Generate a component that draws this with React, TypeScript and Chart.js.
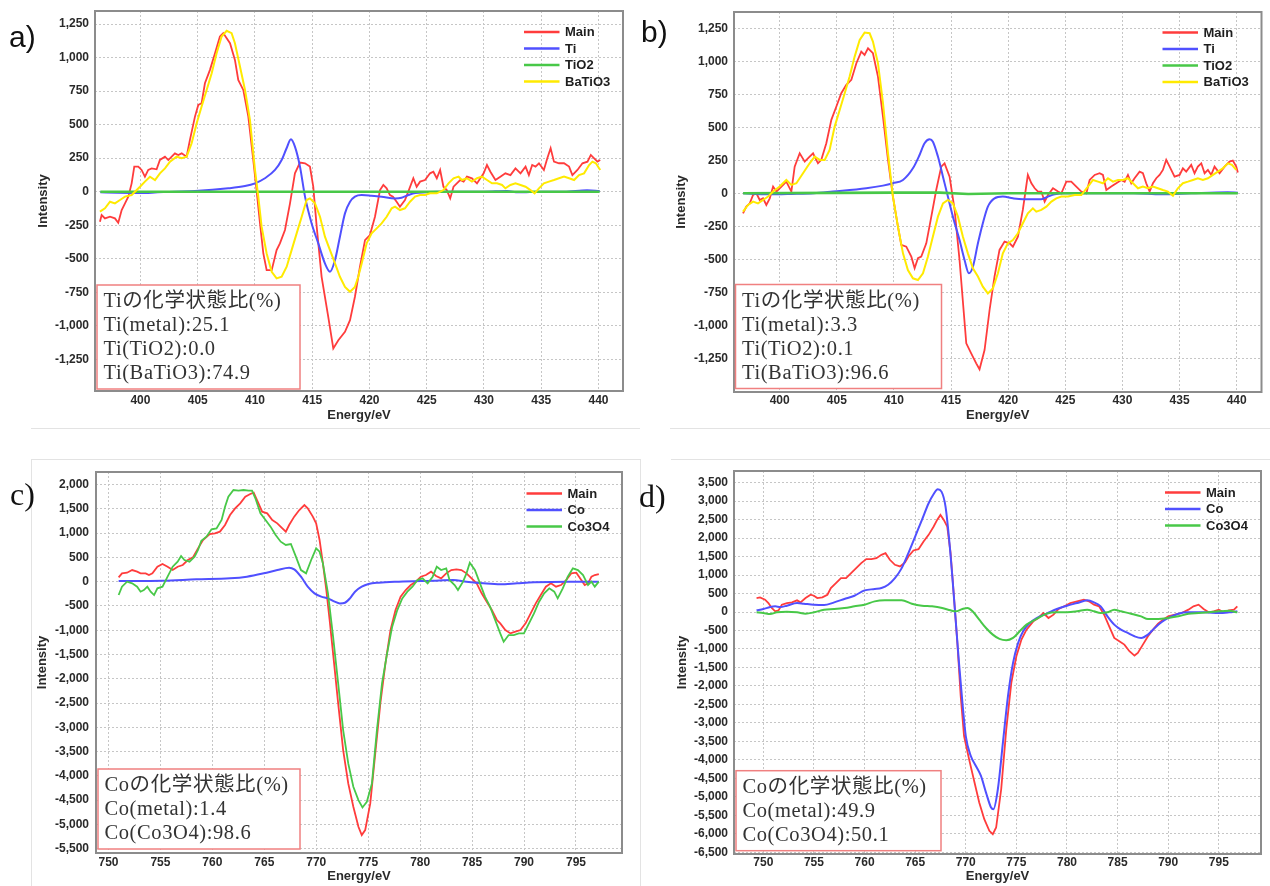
import React, { useEffect, useRef } from "react";
import { Chart, registerables } from "chart.js";

Chart.register(...registerables);

type Pt = [number, number];

const RED = "#ff3c3c";
const BLUE = "#5050ff";
const GREEN = "#48c848";
const YELLOW = "#ffea00";
const GRID = "#c6c6c6";
const FRAME = "#8c8c8c";
const BOXRED = "#f08080";
const SANS = '"Liberation Sans", Arial, Helvetica, sans-serif';
const SERIF = '"Liberation Serif", "Noto Sans CJK JP", serif';

// ---------- tick values ----------
const tiEnergyTicks = [400, 405, 410, 415, 420, 425, 430, 435, 440];
const tiIntensityTicks = [-1250, -1000, -750, -500, -250, 0, 250, 500, 750, 1000, 1250];
const coEnergyTicks = [750, 755, 760, 765, 770, 775, 780, 785, 790, 795];
const coIntensityTicksC = [-5500, -5000, -4500, -4000, -3500, -3000, -2500, -2000, -1500, -1000, -500, 0, 500, 1000, 1500, 2000];
const coIntensityTicksD = [-6500, -6000, -5500, -5000, -4500, -4000, -3500, -3000, -2500, -2000, -1500, -1000, -500, 0, 500, 1000, 1500, 2000, 2500, 3000, 3500];

// ---------- panel a (Ti, sample 1) : [energy eV, intensity] ----------
const aMain: Pt[] = [
  [396.46,-224],[396.61,-174],[396.9,-199],[397.34,-187],[397.77,-199],[398.06,-232],[398.36,-137],[398.65,-87],[398.94,-37],[399.23,62],[399.46,187],[399.81,187],[400.1,162],[400.39,112],[400.68,162],[400.98,174],[401.41,167],[401.7,237],[402.14,261],[402.43,236],[403.01,286],[403.3,274],[403.6,286],[404.03,261],[404.32,386],[404.76,560],[405.05,647],[405.34,660],[405.63,809],[406.07,909],[406.51,1033],[406.94,1158],[407.23,1183],[407.53,1145],[407.82,1108],[408.25,983],[408.54,834],[408.98,759],[409.42,560],[409.85,237],[410.14,12],[410.44,-237],[410.73,-461],[411.02,-585],[411.46,-585],[411.89,-436],[412.18,-386],[412.62,-286],[413.06,-87],[413.49,137],[413.93,217],[414.37,212],[414.8,187],[415.09,37],[415.39,-261],[415.82,-635],[416.4,-934],[416.84,-1170],[417.28,-1108],[417.86,-1046],[418.3,-959],[418.73,-784],[419.17,-560],[419.61,-361],[420.04,-324],[420.48,-187],[420.92,12],[421.21,50],[421.5,25],[421.79,-25],[422.05,-37],[422.37,-75],[422.66,-112],[423.1,-62],[423.39,0],[423.83,100],[424.12,37],[424.42,75],[424.85,87],[425.29,137],[425.58,149],[425.88,100],[426.17,162],[426.46,37],[426.75,12],[427.05,-50],[427.34,37],[427.63,62],[427.92,87],[428.22,75],[428.51,112],[428.95,100],[429.39,62],[429.68,100],[429.97,137],[430.26,199],[430.56,149],[431.0,87],[431.43,112],[431.87,137],[432.31,124],[432.75,174],[433.19,137],[433.63,187],[433.92,124],[434.21,199],[434.5,187],[434.8,212],[435.23,162],[435.53,249],[435.82,324],[436.11,224],[436.55,212],[436.99,212],[437.43,187],[437.72,124],[438.16,162],[438.6,212],[439.04,224],[439.33,274],[439.62,249],[439.91,224],[440.15,236]
];
const aTi: Pt[] = [
  [396.5,-5],[398,-8],[400,-10],[401.5,-5],[403,0],[404.76,5],[407.67,25],[409.13,42],[410.0,62],[410.87,100],[411.75,162],[412.33,236],[412.76,324],[413.14,391],[413.49,336],[413.93,187],[414.37,-37],[414.95,-237],[415.53,-386],[416.11,-535],[416.55,-597],[416.99,-510],[417.42,-336],[417.86,-162],[418.3,-75],[418.73,-37],[419.32,-25],[420.19,-30],[421.06,-37],[422.23,-50],[422.8,-45],[423.4,-25],[424,-10],[425,-5],[426,0],[428,0],[430,0],[432,5],[433,-5],[435,0],[437,0],[439,10],[440.1,5]
];
const aTiO2: Pt[] = [
  [396.5,0],[405,0],[415,0],[425,0],[440.1,0]
];
const aBaTiO3: Pt[] = [
  [396.46,-149],[396.9,-124],[397.34,-75],[397.77,-87],[398.21,-62],[398.65,-37],[399.23,-25],[399.52,0],[399.96,37],[400.39,75],[400.83,112],[401.27,87],[401.7,137],[402.14,174],[402.58,224],[403.16,261],[403.6,249],[404.03,261],[404.47,361],[404.91,510],[405.34,635],[405.78,759],[406.22,884],[406.65,1033],[407.09,1158],[407.53,1200],[407.96,1183],[408.25,1108],[408.69,934],[409.13,759],[409.56,535],[410.0,162],[410.29,-37],[410.58,-261],[411.02,-461],[411.46,-598],[411.89,-647],[412.33,-635],[412.77,-560],[413.2,-436],[413.64,-311],[414.08,-187],[414.51,-62],[414.8,-50],[415.24,-87],[415.68,-187],[416.11,-336],[416.55,-436],[416.99,-535],[417.42,-635],[417.86,-710],[418.3,-747],[418.73,-710],[419.02,-635],[419.32,-535],[419.75,-386],[420.19,-311],[420.63,-274],[421.06,-237],[421.5,-187],[421.94,-124],[422.23,-112],[422.66,-137],[423.1,-124],[423.54,-75],[423.98,-37],[424.42,-25],[424.85,-25],[425.29,-12],[425.88,-12],[426.46,12],[426.9,62],[427.34,100],[427.78,112],[428.07,87],[428.51,100],[428.95,75],[429.39,100],[429.82,112],[430.26,87],[430.7,62],[431.14,62],[431.58,50],[431.87,25],[432.31,50],[432.75,62],[433.19,50],[433.63,37],[434.06,12],[434.42,-12],[434.8,25],[435.23,62],[435.67,75],[436.11,87],[436.55,100],[436.99,112],[437.43,100],[437.87,87],[438.3,124],[438.74,137],[439.18,199],[439.47,224],[439.77,212],[440.15,162]
];

// ---------- panel b (Ti, sample 2) ----------
const bMain: Pt[] = [
  [396.79,-152],[397.08,-101],[397.38,-76],[397.67,-13],[397.96,0],[398.25,-51],[398.54,-38],[398.83,-88],[399.13,-38],[399.42,51],[399.71,13],[400.15,51],[400.58,88],[401.02,13],[401.31,202],[401.75,303],[402.19,240],[402.62,278],[402.92,303],[403.35,227],[403.64,253],[404.08,379],[404.52,556],[404.96,657],[405.39,758],[405.83,821],[406.27,859],[406.71,985],[407.14,1073],[407.43,1048],[407.73,1098],[408.16,1061],[408.6,884],[409.04,581],[409.48,253],[409.91,-25],[410.35,-253],[410.64,-391],[411.08,-404],[411.52,-480],[411.81,-568],[412.1,-492],[412.39,-480],[412.83,-379],[413.27,-177],[413.7,25],[414.14,202],[414.43,227],[414.87,126],[415.31,-126],[415.74,-505],[416.33,-1136],[416.76,-1212],[417.2,-1288],[417.49,-1333],[417.93,-1187],[418.37,-884],[418.8,-631],[419.24,-429],[419.68,-366],[420.12,-379],[420.41,-404],[420.85,-328],[421.28,-126],[421.72,139],[422.03,76],[422.32,38],[422.61,13],[422.9,13],[423.19,-63],[423.48,-13],[423.92,38],[424.36,13],[424.65,0],[425.09,88],[425.52,88],[425.96,51],[426.4,13],[426.84,0],[427.13,101],[427.57,139],[428.0,152],[428.29,139],[428.59,25],[429.02,51],[429.46,76],[429.9,101],[430.19,88],[430.48,139],[430.77,76],[431.06,114],[431.5,164],[431.79,152],[432.08,76],[432.38,13],[432.67,76],[432.96,114],[433.25,139],[433.54,177],[433.83,253],[434.13,202],[434.56,126],[435.0,139],[435.29,189],[435.58,164],[436.02,215],[436.31,152],[436.6,202],[436.9,227],[437.19,152],[437.48,177],[437.77,139],[438.06,202],[438.5,152],[438.94,202],[439.37,240],[439.66,247],[439.96,202],[440.1,157]
];
const bTi: Pt[] = [
  [396.8,0],[399,-8],[401,-5],[403,0],[404.66,13],[407.58,38],[409.04,58],[409.91,76],[410.79,101],[411.66,189],[412.24,290],[412.68,379],[413.12,409],[413.41,391],[413.85,278],[414.29,126],[414.72,-25],[415.16,-177],[415.74,-354],[416.18,-505],[416.56,-606],[416.91,-556],[417.35,-379],[417.78,-227],[418.22,-101],[418.8,-38],[419.53,-25],[420.41,-38],[421.28,-45],[422.16,-45],[422.9,-45],[423.48,-25],[424.07,-8],[424.94,0],[428,0],[431,0],[433.4,-8],[436,0],[439.2,8],[440.1,5]
];
const bTiO2: Pt[] = [
  [396.8,0],[405,3],[410,5],[414,5],[416.5,-5],[420,0],[430,0],[440.1,0]
];
const bBaTiO3: Pt[] = [
  [396.79,-139],[397.23,-88],[397.67,-63],[398.1,-76],[398.54,-51],[398.98,-25],[399.42,13],[400.0,51],[400.58,101],[401.02,63],[401.46,76],[402.04,152],[402.62,227],[403.06,278],[403.5,253],[403.94,253],[404.37,328],[404.81,505],[405.25,631],[405.69,758],[406.12,884],[406.56,1035],[407.0,1162],[407.43,1217],[407.87,1212],[408.16,1149],[408.6,985],[409.04,682],[409.48,303],[409.91,-25],[410.35,-253],[410.79,-455],[411.22,-581],[411.66,-644],[412.1,-657],[412.54,-606],[412.97,-480],[413.41,-328],[413.85,-177],[414.29,-76],[414.72,-51],[415.16,-76],[415.6,-177],[416.03,-328],[416.47,-455],[416.91,-568],[417.35,-631],[417.78,-707],[418.22,-758],[418.66,-720],[419.1,-606],[419.53,-455],[419.97,-379],[420.41,-354],[420.85,-303],[421.28,-227],[421.72,-152],[422.16,-114],[422.46,-139],[422.9,-126],[423.34,-101],[423.78,-63],[424.21,-38],[424.65,-25],[425.23,-25],[425.82,-13],[426.4,-13],[426.98,51],[427.42,101],[427.86,88],[428.29,76],[428.73,114],[429.17,88],[429.61,101],[430.04,101],[430.48,114],[430.92,76],[431.36,38],[431.79,51],[432.23,38],[432.67,51],[433.1,38],[433.54,25],[433.98,13],[434.42,-18],[434.85,38],[435.29,76],[435.73,88],[436.17,101],[436.6,114],[437.04,101],[437.48,114],[437.92,139],[438.35,164],[438.79,189],[439.23,227],[439.58,215],[439.96,177]
];

// ---------- panel c (Co, sample 1) ----------
const cMain: Pt[] = [
  [750.98,89],[751.3,172],[751.79,185],[752.28,240],[752.76,206],[753.09,172],[753.58,172],[753.9,137],[754.23,172],[754.71,309],[755.2,364],[755.69,309],[756.18,240],[756.66,309],[757.15,344],[757.64,447],[758.13,502],[758.62,687],[759.1,859],[759.75,982],[760.24,996],[760.73,1031],[761.22,1168],[761.7,1374],[762.19,1511],[762.68,1614],[763.17,1752],[763.65,1807],[763.98,1834],[764.3,1683],[764.79,1443],[765.28,1408],[765.77,1271],[766.25,1202],[766.74,1099],[767.07,1031],[767.39,1168],[767.88,1340],[768.37,1477],[768.86,1580],[769.18,1511],[769.67,1340],[769.99,1202],[770.32,859],[770.64,378],[770.97,-172],[771.29,-790],[771.62,-1477],[772.11,-2508],[772.59,-3469],[773.08,-4156],[773.57,-4637],[774.06,-5049],[774.38,-5221],[774.71,-5118],[775.2,-4568],[775.68,-3538],[776.17,-2508],[776.66,-1683],[777.15,-996],[777.63,-584],[778.12,-309],[778.61,-172],[779.1,-69],[779.58,0],[780.07,103],[780.56,137],[781.05,206],[781.53,117],[782.02,69],[782.51,172],[783.0,240],[783.49,254],[783.97,240],[784.46,172],[784.95,69],[785.44,-34],[785.92,-240],[786.41,-412],[786.9,-584],[787.39,-790],[787.71,-859],[788.2,-996],[788.69,-1065],[789.17,-1031],[789.66,-996],[790.15,-859],[790.64,-653],[791.13,-447],[791.61,-275],[792.1,-103],[792.59,-34],[793.08,-103],[793.56,-69],[794.05,34],[794.54,172],[795.03,185],[795.51,34],[795.84,-69],[796.16,-34],[796.49,103],[796.81,137],[797.2,158]
];
const cCo: Pt[] = [
  [750.98,14],[755.2,21],[758.45,48],[761.7,69],[763.33,103],[764.95,172],[766.25,240],[767.39,289],[767.88,254],[768.53,103],[769.18,-103],[769.83,-240],[770.48,-309],[771.13,-344],[771.78,-412],[772.27,-447],[772.76,-433],[773.24,-344],[773.73,-206],[774.38,-103],[775.03,-48],[776.01,-21],[777.96,0],[781.21,21],[783.16,34],[784.46,0],[786.09,-34],[787.71,-55],[789.34,-34],[790.96,-14],[794.21,0],[797.2,0]
];
const cCo3O4: Pt[] = [
  [750.98,-275],[751.3,-103],[751.79,0],[752.28,-34],[752.76,-103],[753.09,-206],[753.41,-172],[753.74,-103],[754.06,-206],[754.39,-275],[754.71,-137],[755.2,-103],[755.69,103],[756.18,309],[756.66,412],[756.99,529],[757.31,447],[757.8,412],[758.29,515],[758.62,653],[758.94,845],[759.43,927],[759.92,1079],[760.4,1099],[760.89,1271],[761.22,1546],[761.54,1752],[762.03,1889],[762.52,1876],[763.0,1889],[763.49,1876],[763.82,1876],[764.14,1718],[764.63,1408],[765.12,1271],[765.6,1134],[766.09,962],[766.58,824],[767.07,756],[767.56,776],[768.04,515],[768.53,240],[769.02,172],[769.51,447],[769.99,687],[770.32,618],[770.64,378],[771.13,-240],[771.62,-1134],[772.11,-2095],[772.59,-3057],[773.08,-3744],[773.57,-4225],[774.06,-4500],[774.45,-4651],[774.87,-4534],[775.36,-4156],[775.84,-3057],[776.33,-2095],[776.82,-1477],[777.31,-927],[777.8,-584],[778.28,-344],[778.77,-206],[779.26,-103],[779.75,34],[780.23,69],[780.72,-34],[781.21,103],[781.6,309],[782.02,240],[782.51,275],[782.83,34],[783.32,-69],[783.64,-172],[784.13,0],[784.46,172],[784.78,392],[785.27,240],[785.76,-34],[786.24,-309],[786.73,-515],[787.22,-790],[787.71,-1065],[788.04,-1237],[788.52,-1099],[789.01,-1099],[789.5,-1065],[789.99,-1065],[790.48,-859],[790.96,-653],[791.45,-412],[791.94,-240],[792.43,-137],[792.91,-206],[793.24,-344],[793.73,-137],[794.21,103],[794.7,275],[795.19,240],[795.68,137],[796.16,-69],[796.49,0],[796.81,-103],[797.2,0]
];

// ---------- panel d (Co, sample 2) ----------
const dMain: Pt[] = [
  [749.33,378],[749.67,396],[750.17,333],[750.5,243],[750.83,108],[751.17,18],[751.5,45],[751.83,198],[752.33,243],[752.83,261],[753.33,315],[753.67,261],[754.17,378],[754.67,468],[755.0,441],[755.33,378],[755.83,396],[756.33,468],[756.67,648],[757.17,783],[757.67,918],[758.17,918],[758.67,1053],[759.17,1188],[759.67,1323],[760.17,1431],[760.67,1431],[761.17,1458],[761.67,1548],[762.07,1593],[762.5,1413],[763.0,1278],[763.5,1233],[764.0,1341],[764.33,1503],[764.83,1665],[765.33,1701],[765.83,1908],[766.33,2088],[766.83,2313],[767.17,2493],[767.5,2628],[767.83,2493],[768.17,2313],[768.5,1593],[768.83,423],[769.17,-837],[769.5,-2277],[769.83,-3357],[770.33,-3987],[770.83,-4572],[771.33,-5157],[771.83,-5607],[772.33,-5922],[772.67,-6012],[773.0,-5832],[773.5,-4797],[774.0,-3177],[774.5,-1917],[775.0,-1197],[775.5,-747],[776.0,-477],[776.67,-252],[777.17,-162],[777.67,-27],[778.17,-162],[778.67,-72],[779.17,81],[779.83,171],[780.33,243],[781.0,288],[781.67,333],[782.17,288],[782.67,198],[783.17,153],[783.67,-72],[784.17,-387],[784.67,-702],[785.17,-792],[785.67,-882],[786.17,-1062],[786.67,-1179],[787.0,-1107],[787.5,-882],[788.0,-657],[788.5,-477],[789.0,-315],[789.5,-207],[790.0,-117],[790.67,-72],[791.33,-27],[792.0,63],[792.5,153],[793.0,198],[793.5,81],[794.0,-9],[794.5,18],[795.0,63],[795.5,-9],[796.0,45],[796.5,63],[796.83,153]
];
const dCo: Pt[] = [
  [749.33,45],[750.0,81],[750.67,135],[751.17,153],[751.67,135],[752.33,171],[753.33,243],[754.0,225],[755.0,198],[756.0,189],[757.0,261],[758.0,351],[759.0,441],[760.0,585],[761.0,621],[761.67,648],[762.33,738],[763.0,918],[763.67,1188],[764.33,1593],[765.0,2043],[765.67,2493],[766.33,2943],[766.83,3195],[767.23,3321],[767.6,3258],[768.0,2853],[768.33,2043],[768.67,963],[769.0,-207],[769.33,-1377],[769.67,-2457],[770.0,-3357],[770.5,-3897],[771.0,-4167],[771.5,-4437],[772.0,-4887],[772.5,-5292],[772.73,-5337],[773.17,-4797],[773.67,-3537],[774.17,-2277],[774.67,-1377],[775.17,-837],[775.67,-522],[776.33,-297],[777.0,-162],[778.0,-45],[779.0,81],[780.0,171],[781.0,243],[782.0,315],[782.67,261],[783.33,153],[784.0,-117],[784.67,-342],[785.33,-477],[786.0,-567],[786.67,-657],[787.33,-702],[788.0,-612],[788.67,-432],[789.33,-279],[790.0,-162],[791.0,-45],[792.0,-9],[793.67,-9],[795.0,-27],[796.0,-9],[796.83,18]
];
const dCo3O4: Pt[] = [
  [749.33,-9],[750.0,-27],[750.67,-54],[751.33,-9],[752.33,9],[753.33,-9],[754.17,-45],[755.0,-9],[756.0,63],[757.0,81],[758.0,108],[759.0,153],[760.0,198],[761.0,288],[762.0,315],[763.0,315],[763.67,315],[764.67,225],[765.67,171],[766.67,153],[767.67,108],[768.5,45],[769.0,18],[769.67,81],[770.17,108],[770.67,18],[771.33,-207],[772.0,-432],[772.67,-612],[773.33,-729],[774.0,-765],[774.67,-702],[775.33,-522],[776.0,-342],[777.0,-189],[778.0,-45],[779.0,-9],[780.0,-9],[781.0,18],[782.0,63],[782.67,18],[783.33,-27],[784.0,-9],[784.67,63],[785.33,18],[786.33,-45],[787.33,-117],[788.0,-189],[789.0,-189],[790.0,-162],[791.0,-117],[792.0,-45],[793.0,-27],[794.0,-9],[795.0,18],[796.0,36],[796.83,-9]
];

// ---------- annotation texts ----------
const aNote = ["Tiの化学状態比(%)", "Ti(metal):25.1", "Ti(TiO2):0.0", "Ti(BaTiO3):74.9"];
const bNote = ["Tiの化学状態比(%)", "Ti(metal):3.3", "Ti(TiO2):0.1", "Ti(BaTiO3):96.6"];
const cNote = ["Coの化学状態比(%)", "Co(metal):1.4", "Co(Co3O4):98.6"];
const dNote = ["Coの化学状態比(%)", "Co(metal):49.9", "Co(Co3O4):50.1"];

type Series = { label: string; color: string; width: number; pts: Pt[]; smooth?: boolean };

type PanelCfg = {
  key: string;
  left: number; top: number; w: number; h: number;
  yW: number; padTop: number; padRight: number; xH: number;
  xMin: number; xMax: number; yMin: number; yMax: number;
  xTicks: number[]; yTicks: number[];
  series: Series[];
  yTitlePad: number; xTitlePad: number; xTickPad: number; yTickPad: number;
  legendRight: number; legendTop: number;
  note: string[]; boxW: number; boxDx: number; boxDy: number;
};

const panels: PanelCfg[] = [
  {
    key: "a", left: 0, top: 0, w: 632, h: 430,
    yW: 95, padTop: 11, padRight: 9, xH: 39,
    xMin: 396.03, xMax: 442.14, yMin: -1487, yMax: 1348,
    xTicks: tiEnergyTicks, yTicks: tiIntensityTicks,
    series: [
      { label: "Main", color: RED, width: 1.8, pts: aMain },
      { label: "Ti", color: BLUE, width: 2, pts: aTi, smooth: true },
      { label: "TiO2", color: GREEN, width: 2.6, pts: aTiO2 },
      { label: "BaTiO3", color: YELLOW, width: 2, pts: aBaTiO3 },
    ],
    yTitlePad: 36, xTitlePad: 7, xTickPad: 2, yTickPad: 6,
    legendRight: 99, legendTop: 21,
    note: aNote, boxW: 203, boxDx: 2, boxDy: 2,
  },
  {
    key: "b", left: 635, top: 0, w: 635, h: 430,
    yW: 99, padTop: 12, padRight: 8.5, xH: 38,
    xMin: 396.0, xMax: 442.17, yMin: -1505, yMax: 1373,
    xTicks: tiEnergyTicks, yTicks: tiIntensityTicks,
    series: [
      { label: "Main", color: RED, width: 1.8, pts: bMain },
      { label: "Ti", color: BLUE, width: 2, pts: bTi, smooth: true },
      { label: "TiO2", color: GREEN, width: 2.6, pts: bTiO2 },
      { label: "BaTiO3", color: YELLOW, width: 2, pts: bBaTiO3 },
    ],
    yTitlePad: 39, xTitlePad: 7, xTickPad: 1, yTickPad: 6,
    legendRight: 99, legendTop: 20.5,
    note: bNote, boxW: 206, boxDx: 1.5, boxDy: 3.5,
  },
  {
    key: "c", left: 0, top: 455, w: 632, h: 431,
    yW: 96, padTop: 17, padRight: 10, xH: 33,
    xMin: 748.8, xMax: 799.43, yMin: -5590, yMax: 2260,
    xTicks: coEnergyTicks, yTicks: coIntensityTicksC,
    series: [
      { label: "Main", color: RED, width: 1.8, pts: cMain },
      { label: "Co", color: BLUE, width: 2, pts: cCo, smooth: true },
      { label: "Co3O4", color: GREEN, width: 1.8, pts: cCo3O4 },
    ],
    yTitlePad: 35, xTitlePad: 1.5, xTickPad: 2, yTickPad: 7,
    legendRight: 95.5, legendTop: 21.5,
    note: cNote, boxW: 202, boxDx: 2, boxDy: 4,
  },
  {
    key: "d", left: 635, top: 455, w: 635, h: 431,
    yW: 99, padTop: 16, padRight: 9, xH: 32,
    xMin: 747.1, xMax: 799.17, yMin: -6549, yMax: 3816,
    xTicks: coEnergyTicks, yTicks: coIntensityTicksD,
    series: [
      { label: "Main", color: RED, width: 1.8, pts: dMain },
      { label: "Co", color: BLUE, width: 2, pts: dCo, smooth: true },
      { label: "Co3O4", color: GREEN, width: 2, pts: dCo3O4, smooth: true },
    ],
    yTitlePad: 40, xTitlePad: 1.5, xTickPad: 1, yTickPad: 6,
    legendRight: 96, legendTop: 21.5,
    note: dNote, boxW: 205, boxDx: 2, boxDy: 3.3,
  },
];

const fmt = (v: number) => Number(v).toLocaleString("en-US");

function buildConfig(cfg: PanelCfg): any {
  const n = cfg.series.length;
  const deco = {
    id: "deco_" + cfg.key,
    afterDraw(chart: any) {
      const { ctx, chartArea: a } = chart;
      ctx.save();
      // frame
      ctx.strokeStyle = FRAME;
      ctx.lineWidth = 2;
      ctx.strokeRect(a.left, a.top, a.right - a.left, a.bottom - a.top);
      // legend
      ctx.font = `bold 13px ${SANS}`;
      ctx.textBaseline = "middle";
      ctx.textAlign = "left";
      cfg.series.forEach((s, i) => {
        const y = a.top + cfg.legendTop + i * 16.5;
        const x0 = a.right - cfg.legendRight;
        ctx.strokeStyle = s.color;
        ctx.lineWidth = 2.5;
        ctx.beginPath();
        ctx.moveTo(x0, y);
        ctx.lineTo(x0 + 35.5, y);
        ctx.stroke();
        ctx.fillStyle = "#1e1e1e";
        ctx.fillText(s.label, x0 + 41, y + 0.5);
      });
      // annotation box
      const bh = cfg.note.length * 24 + 8;
      const bx = a.left + cfg.boxDx;
      const by = a.bottom - cfg.boxDy - bh;
      ctx.fillStyle = "#ffffff";
      ctx.fillRect(bx, by, cfg.boxW, bh);
      ctx.strokeStyle = BOXRED;
      ctx.lineWidth = 1.5;
      ctx.strokeRect(bx, by, cfg.boxW, bh);
      ctx.fillStyle = "#333333";
      ctx.font = `20.5px ${SERIF}`;
      try {
        (ctx as any).letterSpacing = "0.6px";
      } catch (e) {
        /* ignore */
      }
      cfg.note.forEach((t, i) => ctx.fillText(t, bx + 6.5, by + 17 + i * 24));
      ctx.restore();
    },
  };

  return {
    type: "line",
    data: {
      datasets: cfg.series.map((s, i) => ({
        label: s.label,
        data: s.pts.map(([x, y]) => ({ x, y })),
        borderColor: s.color,
        backgroundColor: s.color,
        borderWidth: s.width,
        pointRadius: 0,
        pointHoverRadius: 0,
        fill: false,
        tension: 0,
        cubicInterpolationMode: s.smooth ? "monotone" : "default",
        order: n - i,
      })),
    },
    options: {
      animation: false,
      responsive: false,
      devicePixelRatio: 1,
      events: [],
      layout: { padding: { left: 0, top: cfg.padTop, right: cfg.padRight, bottom: 0 } },
      plugins: { legend: { display: false }, tooltip: { enabled: false } },
      scales: {
        x: {
          type: "linear",
          min: cfg.xMin,
          max: cfg.xMax,
          afterBuildTicks: (s: any) => {
            s.ticks = cfg.xTicks.map((v) => ({ value: v }));
          },
          afterFit: (s: any) => {
            s.height = cfg.xH;
            s.paddingLeft = 0;
            s.paddingRight = 0;
          },
          grid: { color: GRID, lineWidth: 1, drawTicks: false },
          border: { display: false, dash: [2, 2] },
          ticks: {
            autoSkip: false,
            maxRotation: 0,
            padding: cfg.xTickPad,
            color: "#2a2a2a",
            font: { family: SANS, size: 12, weight: "bold", lineHeight: 1.2 },
            callback: (v: any) => fmt(v),
          },
          title: {
            display: true,
            text: "Energy/eV",
            color: "#2a2a2a",
            font: { family: SANS, size: 13, weight: "bold", lineHeight: 1.2 },
            padding: { top: 0, bottom: cfg.xTitlePad },
          },
        },
        y: {
          type: "linear",
          min: cfg.yMin,
          max: cfg.yMax,
          afterBuildTicks: (s: any) => {
            s.ticks = cfg.yTicks.map((v) => ({ value: v }));
          },
          afterFit: (s: any) => {
            s.width = cfg.yW;
            s.paddingTop = 0;
            s.paddingBottom = 0;
          },
          grid: { color: GRID, lineWidth: 1, drawTicks: false },
          border: { display: false, dash: [2, 2] },
          ticks: {
            autoSkip: false,
            padding: cfg.yTickPad,
            color: "#2a2a2a",
            font: { family: SANS, size: 12, weight: "bold", lineHeight: 1.2 },
            callback: (v: any) => fmt(v),
          },
          title: {
            display: true,
            text: "Intensity",
            color: "#2a2a2a",
            font: { family: SANS, size: 13, weight: "bold", lineHeight: 1.2 },
            padding: { top: cfg.yTitlePad, bottom: 0 },
          },
        },
      },
    },
    plugins: [deco],
  };
}

function Panel({ cfg }: { cfg: PanelCfg }) {
  const ref = useRef<HTMLCanvasElement>(null);
  useEffect(() => {
    const canvas = ref.current;
    if (!canvas) return;
    const chart = new Chart(canvas, buildConfig(cfg));
    return () => chart.destroy();
  }, [cfg]);
  return (
    <canvas
      ref={ref}
      width={cfg.w}
      height={cfg.h}
      style={{ position: "absolute", left: cfg.left, top: cfg.top, width: cfg.w, height: cfg.h }}
    />
  );
}

const SEP = "#e3e3e3";

export default function App() {
  const line = (left: number, top: number, width: number, height: number) => (
    <div style={{ position: "absolute", left, top, width, height, background: SEP }} />
  );
  const label = (text: string, left: number, top: number, serif: boolean) => (
    <div
      style={{
        position: "absolute",
        left,
        top,
        fontFamily: serif ? '"Liberation Serif", serif' : SANS,
        fontSize: serif ? 32 : 30,
        lineHeight: 1,
        color: "#111",
        whiteSpace: "nowrap",
      }}
    >
      {text}
    </div>
  );
  return (
    <div
      style={{
        position: "absolute",
        left: 0,
        top: 0,
        width: 1270,
        height: 886,
        background: "#ffffff",
        overflow: "hidden",
      }}
    >
      {line(31, 428, 609, 1)}
      {line(670, 428, 600, 1)}
      {line(31, 459, 609, 1)}
      {line(31, 459, 1, 427)}
      {line(671, 459, 599, 1)}
      {line(640, 459, 1, 427)}
      {panels.map((p) => (
        <Panel key={p.key} cfg={p} />
      ))}
      {label("a)", 9, 22, false)}
      {label("b)", 641, 17, false)}
      {label("c)", 10, 478, true)}
      {label("d)", 639, 480, true)}
    </div>
  );
}
